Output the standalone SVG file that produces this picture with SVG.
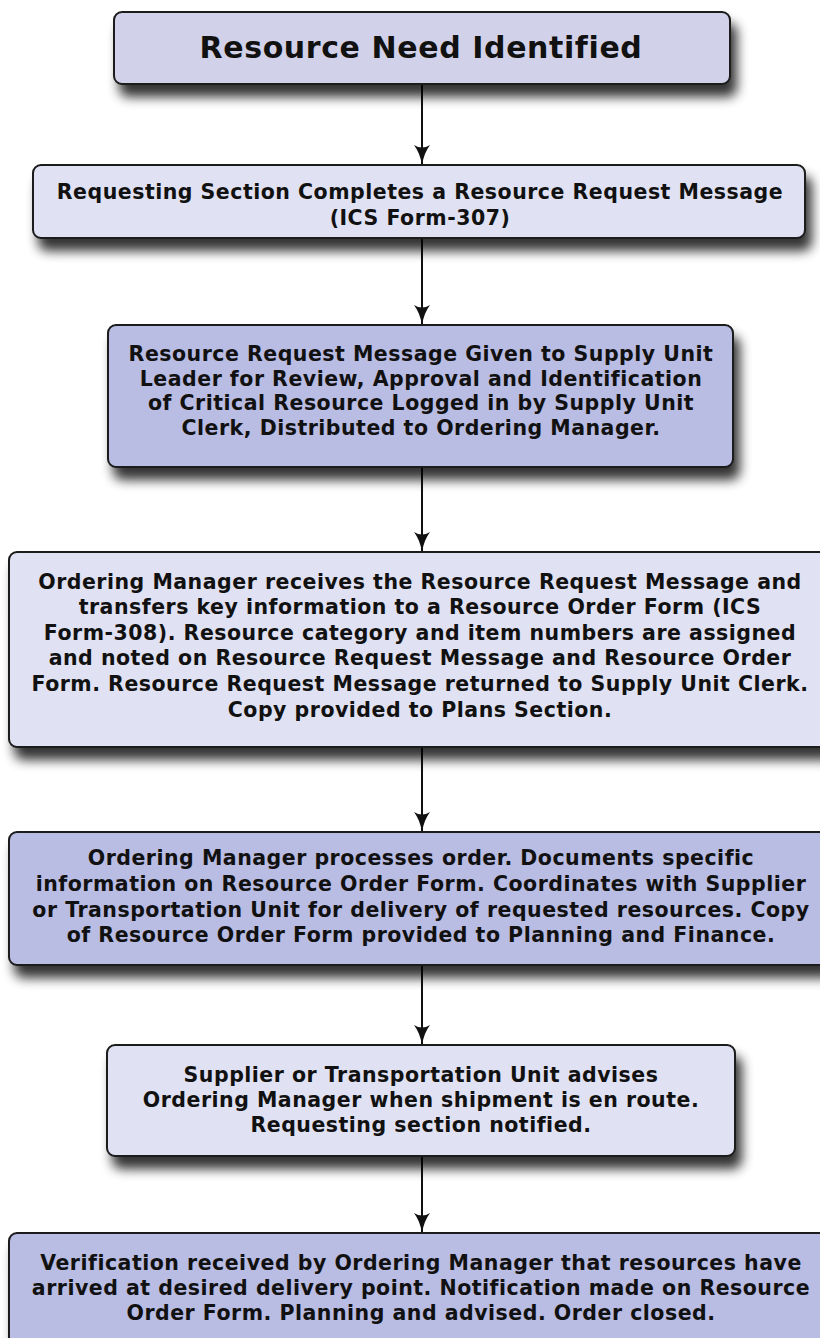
<svg xmlns="http://www.w3.org/2000/svg" width="820" height="1338" viewBox="0 0 820 1338">
<defs>
<filter id="sh" x="-10%" y="-20%" width="130%" height="170%">
<feGaussianBlur in="SourceAlpha" stdDeviation="6"/>
<feOffset dx="6" dy="12" result="b"/>
<feComponentTransfer><feFuncA type="linear" slope="0.8"/></feComponentTransfer>
<feMerge><feMergeNode/><feMergeNode in="SourceGraphic"/></feMerge>
</filter>
<marker id="ah" viewBox="0 0 20 16" refX="19" refY="8" markerWidth="20" markerHeight="16" markerUnits="userSpaceOnUse" orient="auto">
<path d="M0,0 Q8,6 20,8 Q8,10 0,16 Q5,8 0,0 Z" fill="#111"/>
</marker>
</defs>
<style>
.box{stroke:#1a1a1a;stroke-width:2;filter:url(#sh)}
.mid{fill:#d1d1e9}
.lt{fill:#e0e1f2}
.dk{fill:#b9bce3}
text{font-family:"DejaVu Sans","Verdana",sans-serif;font-weight:bold;fill:#111;text-anchor:middle}
.t{font-size:20.5px;letter-spacing:0.5px}
.big{font-size:30px;letter-spacing:0.6px}
.con{stroke:#111;stroke-width:2;fill:none;marker-end:url(#ah)}
</style>
<g id="connectors">
<line class="con" x1="422" y1="84" x2="422" y2="164"/>
<line class="con" x1="422" y1="238" x2="422" y2="324"/>
<line class="con" x1="422" y1="467" x2="422" y2="551"/>
<line class="con" x1="422" y1="747" x2="422" y2="831"/>
<line class="con" x1="422" y1="965" x2="422" y2="1044"/>
<line class="con" x1="422" y1="1156" x2="422" y2="1232"/>
</g>
<g id="n1">
<rect class="box mid" x="114" y="12" width="616" height="72" rx="8"/>
<text class="big" x="421" y="58">Resource Need Identified</text>
</g>
<g id="n2">
<rect class="box lt" x="33" y="165" width="772" height="73" rx="8"/>
<text class="t" x="420" y="199">Requesting Section Completes a Resource Request Message</text>
<text class="t" x="420" y="225">(ICS Form-307)</text>
</g>
<g id="n3">
<rect class="box dk" x="108" y="325" width="625" height="142" rx="8"/>
<text class="t" x="421" y="361">Resource Request Message Given to Supply Unit</text>
<text class="t" x="421" y="386">Leader for Review, Approval and Identification</text>
<text class="t" x="421" y="410">of Critical Resource Logged in by Supply Unit</text>
<text class="t" x="421" y="435">Clerk, Distributed to Ordering Manager.</text>
</g>
<g id="n4">
<rect class="box lt" x="9" y="552" width="830" height="195" rx="8"/>
<text class="t" x="420" y="589">Ordering Manager receives the Resource Request Message and</text>
<text class="t" x="420" y="614">transfers key information to a Resource Order Form (ICS</text>
<text class="t" x="420" y="640">Form-308). Resource category and item numbers are assigned</text>
<text class="t" x="420" y="665">and noted on Resource Request Message and Resource Order</text>
<text class="t" x="420" y="691">Form. Resource Request Message returned to Supply Unit Clerk.</text>
<text class="t" x="420" y="717">Copy provided to Plans Section.</text>
</g>
<g id="n5">
<rect class="box dk" x="9" y="832" width="830" height="133" rx="8"/>
<text class="t" x="421" y="865">Ordering Manager processes order. Documents specific</text>
<text class="t" x="421" y="891">information on Resource Order Form. Coordinates with Supplier</text>
<text class="t" x="421" y="917">or Transportation Unit for delivery of requested resources. Copy</text>
<text class="t" x="421" y="942">of Resource Order Form provided to Planning and Finance.</text>
</g>
<g id="n6">
<rect class="box lt" x="107" y="1045" width="628" height="111" rx="8"/>
<text class="t" x="421" y="1082">Supplier or Transportation Unit advises</text>
<text class="t" x="421" y="1107">Ordering Manager when shipment is en route.</text>
<text class="t" x="421" y="1132">Requesting section notified.</text>
</g>
<g id="n7">
<rect class="box dk" x="9" y="1233" width="830" height="130" rx="8"/>
<text class="t" x="421" y="1270">Verification received by Ordering Manager that resources have</text>
<text class="t" x="421" y="1295">arrived at desired delivery point. Notification made on Resource</text>
<text class="t" x="421" y="1320">Order Form. Planning and advised. Order closed.</text>
</g>
</svg>
